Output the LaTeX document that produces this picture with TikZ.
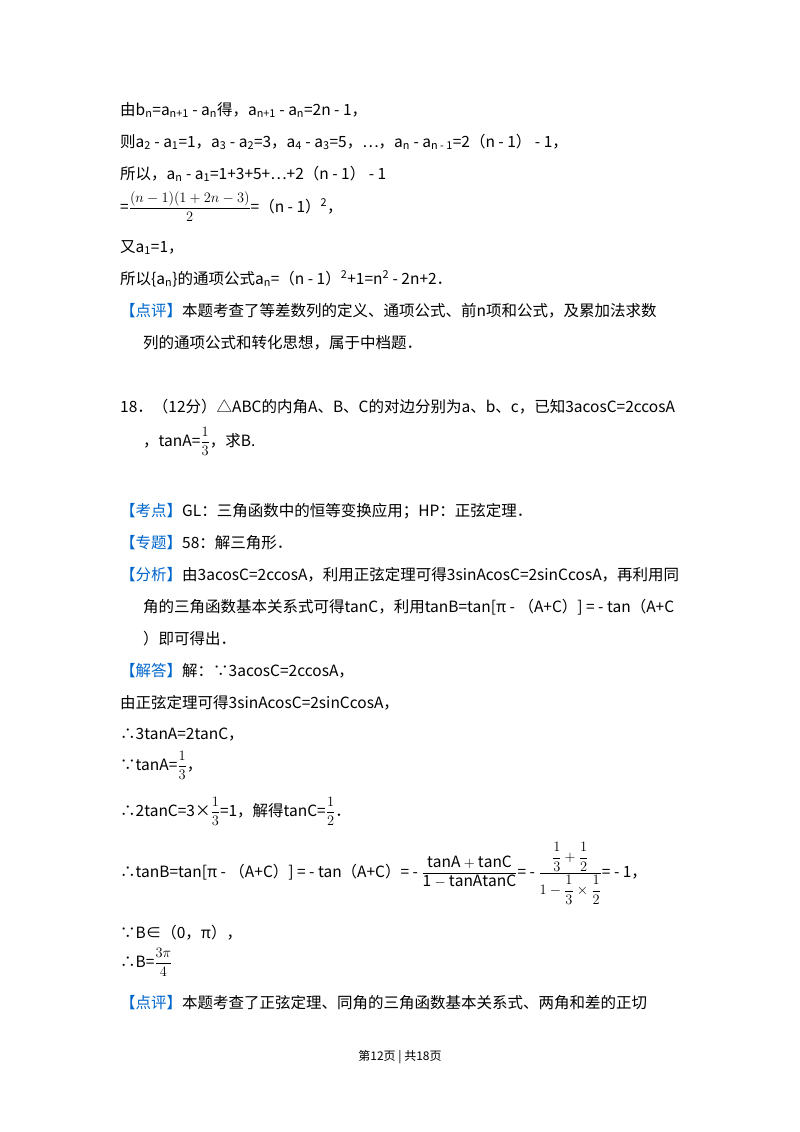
\documentclass[tikz,border=0pt]{standalone}
\usepackage{fontspec}
\usepackage{amsmath}
\setmainfont{Noto Sans CJK SC}
\newcommand\tsub[1]{\textsubscript{#1}}
\newcommand\tsup[1]{\textsuperscript{#1}}
\definecolor{kblue}{RGB}{0,102,204}
\newcommand\kh[1]{\textcolor{kblue}{【#1】}}
\begin{document}
\begin{tikzpicture}[x=1pt,y=-1pt,t/.style={anchor=base west,inner sep=0pt,font=\fontsize{15.5}{18}\selectfont}]
\useasboundingbox (0,0) rectangle (800,1132);
\node[t] (l1) at (120,115) {由b\tsub{n}=a\tsub{n+1} - a\tsub{n}得，a\tsub{n+1} - a\tsub{n}=2n - 1，};
\node[t] (l2) at (120,147) {则a\tsub{2} - a\tsub{1}=1，a\tsub{3} - a\tsub{2}=3，a\tsub{4} - a\tsub{3}=5，…，a\tsub{n} - a\tsub{n - 1}=2（n - 1） - 1，};
\node[t] (l3) at (120,179) {所以，a\tsub{n} - a\tsub{1}=1+3+5+…+2（n - 1） - 1};
\node[t] (l4) at (120,212) {=$\dfrac{(n-1)(1+2n-3)}{2}$=（n - 1）\tsup{2}，};
\node[t] (l5) at (120,252) {又a\tsub{1}=1，};
\node[t] (l6) at (120,284) {所以\{a\tsub{n}\}的通项公式a\tsub{n}=（n - 1）\tsup{2}+1=n\tsup{2} - 2n+2．};
\node[t] (l7) at (120,316) {\kh{点评}本题考查了等差数列的定义、通项公式、前n项和公式，及累加法求数};
\node[t] (l8) at (143,348) {列的通项公式和转化思想，属于中档题．};
\node[t] (l9) at (120,412) {18．（12分）△ABC的内角A、B、C的对边分别为a、b、c，已知3acosC=2ccosA};
\node[t] (l10) at (143,446) {，tanA=$\dfrac{1}{3}$，求B.};
\node[t] (l11) at (120,516) {\kh{考点}GL：三角函数中的恒等变换应用；HP：正弦定理．};
\node[t] (l12) at (120,548) {\kh{专题}58：解三角形．};
\node[t] (l13) at (120,580) {\kh{分析}由3acosC=2ccosA，利用正弦定理可得3sinAcosC=2sinCcosA，再利用同};
\node[t] (l14) at (143,612) {角的三角函数基本关系式可得tanC，利用tanB=tan[π - （A+C）] = - tan（A+C};
\node[t] (l15) at (143,644) {）即可得出．};
\node[t] (l16) at (120,676) {\kh{解答}解：∵3acosC=2ccosA，};
\node[t] (l17) at (120,708) {由正弦定理可得3sinAcosC=2sinCcosA，};
\node[t] (l18) at (120,739) {∴3tanA=2tanC，};
\node[t] (l19) at (120,770) {∵tanA=$\dfrac{1}{3}$，};
\node[t] (l20) at (120,816) {∴2tanC=3×$\dfrac{1}{3}$=1，解得tanC=$\dfrac{1}{2}$．};
\node[t] (l21) at (120,877) {∴tanB=tan[π - （A+C）] = - tan（A+C）= - $\dfrac{\mathrm{tanA+tanC}}{\mathrm{1-tanAtanC}}$= - $\dfrac{\dfrac{1}{3}+\dfrac{1}{2}}{1-\dfrac{1}{3}\times\dfrac{1}{2}}$= - 1，};
\node[t] (l22) at (120,938) {∵B∈（0，π），};
\node[t] (l23) at (120,967) {∴B=$\dfrac{3\pi}{4}$};
\node[t] (l24) at (120,1008) {\kh{点评}本题考查了正弦定理、同角的三角函数基本关系式、两角和差的正切};
\node[anchor=base,inner sep=0pt,font=\fontsize{12}{14}\selectfont] (f) at (400,1060) {第12页 | 共18页};
\end{tikzpicture}
\end{document}
